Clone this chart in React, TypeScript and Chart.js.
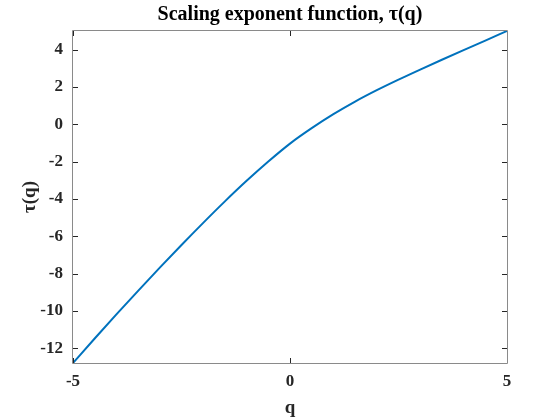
import React, { useEffect, useRef } from 'react';
import { Chart, registerables } from 'chart.js';

Chart.register(...registerables);

const qValues = [-5, -4.5, -4, -3.5, -3, -2.5, -2, -1.5, -1, -0.5, 0, 0.5, 1, 1.5, 2, 2.5, 3, 3.5, 4, 4.5, 5];
const tauValues = [-12.78, -11.47, -10.18, -8.915, -7.675, -6.46, -5.275, -4.125, -3.025, -1.99, -1.03, -0.205, 0.545, 1.22, 1.83, 2.395, 2.935, 3.46, 3.975, 4.485, 5.0];
const xTickValues = [-5, 0, 5];
const yTickValues = [-12, -10, -8, -6, -4, -2, 0, 2, 4];

const X_MIN = -5;
const X_MAX = 5;
const Y_MIN = -12.78;
const Y_MAX = 5.0;

const FONT = 'Liberation Serif';

const boxPlugin = {
  id: 'matlabBox',
  afterDatasetsDraw(chart: any) {
    const { ctx, chartArea, scales } = chart;
    const { left, right, top, bottom } = chartArea;
    ctx.save();
    ctx.strokeStyle = '#262626';
    ctx.lineWidth = 1;
    const tl = 5;
    ctx.beginPath();
    for (const v of xTickValues) {
      const x = Math.round(scales.x.getPixelForValue(v)) + 0.5;
      ctx.moveTo(x, bottom);
      ctx.lineTo(x, bottom - tl);
      ctx.moveTo(x, top);
      ctx.lineTo(x, top + tl);
    }
    for (const v of yTickValues) {
      const y = Math.round(scales.y.getPixelForValue(v)) + 0.5;
      ctx.moveTo(left, y);
      ctx.lineTo(left + tl, y);
      ctx.moveTo(right, y);
      ctx.lineTo(right - tl, y);
    }
    ctx.stroke();
    ctx.strokeStyle = '#8a8a8a';
    ctx.beginPath();
    ctx.rect(Math.round(left) - 0.5, Math.round(top) - 0.5, Math.round(right - left) + 1, Math.round(bottom - top) + 1);
    ctx.stroke();
    ctx.restore();
  },
};

export default function App() {
  const canvasRef = useRef<HTMLCanvasElement | null>(null);

  useEffect(() => {
    const canvas = canvasRef.current;
    if (!canvas) return;
    const chart = new Chart(canvas, {
      type: 'line',
      data: {
        datasets: [
          {
            data: qValues.map((q, i) => ({ x: q, y: tauValues[i] })),
            borderColor: '#0072BD',
            borderWidth: 2,
            pointRadius: 0,
            cubicInterpolationMode: 'monotone',
            fill: false,
          },
        ],
      },
      options: {
        responsive: false,
        animation: false,
        devicePixelRatio: 1,
        layout: { padding: { left: 0, right: 53, top: 0, bottom: 0 } },
        plugins: {
          legend: { display: false },
          tooltip: { enabled: false },
          title: {
            display: true,
            text: 'Scaling exponent function, τ(q)',
            color: '#000',
            fullSize: false,
            font: { family: FONT, size: 20, weight: 'bold' },
            padding: { top: 3, bottom: 4 },
          },
        },
        scales: {
          x: {
            type: 'linear',
            min: X_MIN,
            max: X_MAX,
            afterBuildTicks: (s: any) => {
              s.ticks = xTickValues.map((v) => ({ value: v }));
            },
            afterFit: (s: any) => {
              s.height = 57;
            },
            grid: { display: false, drawTicks: false },
            border: { display: false },
            ticks: {
              color: '#262626',
              padding: 8,
              maxRotation: 0,
              font: { family: FONT, size: 17, weight: 'bold' },
              callback: (v: any) => String(v),
            },
            title: {
              display: true,
              text: 'q',
              color: '#262626',
              font: { family: FONT, size: 19, weight: 'bold' },
              padding: { top: 0, bottom: 1 },
            },
          },
          y: {
            type: 'linear',
            min: Y_MIN,
            max: Y_MAX,
            afterBuildTicks: (s: any) => {
              s.ticks = yTickValues.map((v) => ({ value: v }));
            },
            afterFit: (s: any) => {
              s.width = 73;
            },
            grid: { display: false, drawTicks: false },
            border: { display: false },
            ticks: {
              color: '#262626',
              padding: 10,
              font: { family: FONT, size: 17, weight: 'bold' },
              callback: (v: any) => String(v),
            },
            title: {
              display: true,
              text: 'τ(q)',
              color: '#262626',
              font: { family: FONT, size: 19, weight: 'bold' },
              padding: { top: 19, bottom: 0 },
            },
          },
        },
      },
      plugins: [boxPlugin],
    } as any);
    return () => chart.destroy();
  }, []);

  return (
    <div style={{ position: 'absolute', left: 0, top: 0, width: 560, height: 420, background: '#fff' }}>
      <canvas ref={canvasRef} width={560} height={420} style={{ width: 560, height: 420 }} />
    </div>
  );
}
